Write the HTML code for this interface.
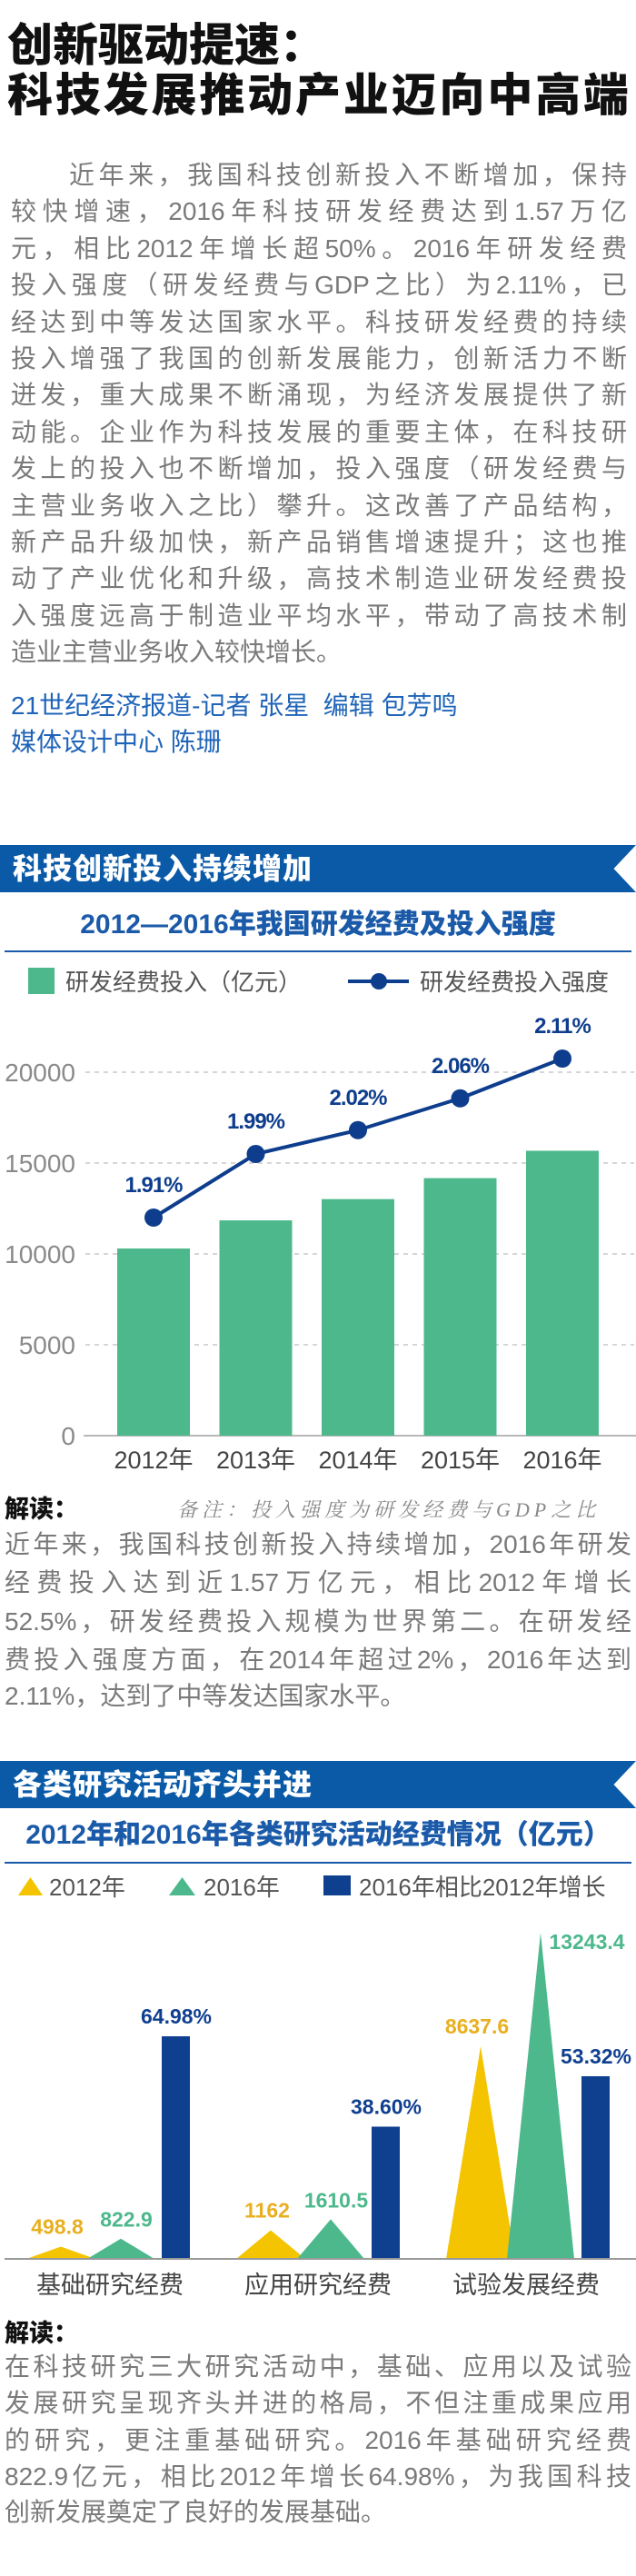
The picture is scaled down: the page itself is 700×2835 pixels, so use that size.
<!DOCTYPE html>
<html><head><meta charset="utf-8"><style>
*{margin:0;padding:0;box-sizing:border-box}
body{width:700px;height:2835px;background:#fff;position:relative;overflow:hidden;font-family:"Liberation Sans","Noto Sans CJK SC",sans-serif}
.t{position:absolute;white-space:nowrap}
.ln{position:absolute;height:40px;line-height:40px;font-size:28px;color:#7a7a7a;text-align:justify;text-align-last:justify;overflow:hidden;white-space:nowrap}
.ln.l{text-align-last:left}
.title{position:absolute;left:8px;font-size:50px;font-weight:900;color:#111;line-height:56px;height:56px;white-space:nowrap}
.bar{position:absolute;left:0;width:700px;height:52px;background:#0a5aa8;clip-path:polygon(0 0,100% 0,96.5% 50%,100% 100%,0 100%)}
.bar span{position:absolute;left:14px;top:5px;font-size:32px;font-weight:900;color:#fff;line-height:42px;letter-spacing:1px}
.ct{position:absolute;left:0;width:700px;text-align:center;font-size:30px;font-weight:900;color:#1a5aa8;line-height:40px}
.rule{position:absolute;left:5px;width:690px;height:2px;background:#1a5aa8}
.by{position:absolute;left:12px;font-size:28px;color:#1f64b8;line-height:40px;white-space:nowrap}
.jd{position:absolute;left:5px;font-size:27px;font-weight:900;color:#111;line-height:36px}
svg{position:absolute;left:0;top:0}
</style></head><body>
<div class="title" style="top:22px">创新驱动提速：</div>
<div class="title" style="top:77px;width:684px;text-align:justify;text-align-last:justify">科技发展推动产业迈向中高端</div>

<div>
<div class="ln" style="top:173px;left:76px;width:614px">近年来，我国科技创新投入不断增加，保持</div>
<div class="ln" style="top:213px;left:12px;width:678px">较快增速，2016年科技研发经费达到1.57万亿</div>
<div class="ln" style="top:254px;left:12px;width:678px">元，相比2012年增长超50%。2016年研发经费</div>
<div class="ln" style="top:294px;left:12px;width:678px">投入强度（研发经费与GDP之比）为2.11%，已</div>
<div class="ln" style="top:335px;left:12px;width:678px">经达到中等发达国家水平。科技研发经费的持续</div>
<div class="ln" style="top:375px;left:12px;width:678px">投入增强了我国的创新发展能力，创新活力不断</div>
<div class="ln" style="top:415px;left:12px;width:678px">迸发，重大成果不断涌现，为经济发展提供了新</div>
<div class="ln" style="top:456px;left:12px;width:678px">动能。企业作为科技发展的重要主体，在科技研</div>
<div class="ln" style="top:496px;left:12px;width:678px">发上的投入也不断增加，投入强度（研发经费与</div>
<div class="ln" style="top:537px;left:12px;width:678px">主营业务收入之比）攀升。这改善了产品结构，</div>
<div class="ln" style="top:577px;left:12px;width:678px">新产品升级加快，新产品销售增速提升；这也推</div>
<div class="ln" style="top:617px;left:12px;width:678px">动了产业优化和升级，高技术制造业研发经费投</div>
<div class="ln" style="top:658px;left:12px;width:678px">入强度远高于制造业平均水平，带动了高技术制</div>
<div class="ln l" style="top:698px;left:12px;width:678px">造业主营业务收入较快增长。</div>
</div>
<div class="by" style="top:757px">21世纪经济报道-记者 张星&nbsp;&nbsp;编辑 包芳鸣</div>
<div class="by" style="top:797px">媒体设计中心 陈珊</div>

<div class="bar" style="top:930px"><span>科技创新投入持续增加</span></div>
<div class="ct" style="top:998px">2012—2016年我国研发经费及投入强度</div>
<div class="rule" style="top:1046px"></div>

<div class="jd" style="top:1643px">解读：</div>
<div class="t" style="left:195px;top:1645px;font-size:22px;color:#888;font-style:italic;letter-spacing:5px;font-family:'Liberation Serif','Noto Serif CJK SC',serif">备注：投入强度为研发经费与GDP之比</div>
<div>
<div class="ln" style="top:1680px;left:5px;width:690px">近年来，我国科技创新投入持续增加，2016年研发</div>
<div class="ln" style="top:1722px;left:5px;width:690px">经费投入达到近1.57万亿元，相比2012年增长</div>
<div class="ln" style="top:1765px;left:5px;width:690px">52.5%，研发经费投入规模为世界第二。在研发经</div>
<div class="ln" style="top:1807px;left:5px;width:690px">费投入强度方面，在2014年超过2%，2016年达到</div>
<div class="ln l" style="top:1847px;left:5px;width:690px">2.11%，达到了中等发达国家水平。</div>
</div>

<div class="bar" style="top:1938px"><span>各类研究活动齐头并进</span></div>
<div class="ct" style="top:2000px">2012年和2016年各类研究活动经费情况（亿元）</div>
<div class="rule" style="top:2049px"></div>

<div class="jd" style="top:2550px">解读：</div>
<div>
<div class="ln" style="top:2585px;left:5px;width:690px">在科技研究三大研究活动中，基础、应用以及试验</div>
<div class="ln" style="top:2625px;left:5px;width:690px">发展研究呈现齐头并进的格局，不但注重成果应用</div>
<div class="ln" style="top:2666px;left:5px;width:690px">的研究，更注重基础研究。2016年基础研究经费</div>
<div class="ln" style="top:2706px;left:5px;width:690px">822.9亿元，相比2012年增长64.98%，为我国科技</div>
<div class="ln l" style="top:2745px;left:5px;width:690px">创新发展奠定了良好的发展基础。</div>
</div>

<svg id="charts" width="700" height="2835"></svg>

<script>
// Chart 1 data
const years = ["2012年","2013年","2014年","2015年","2016年"];
const spend = [10298, 11847, 13016, 14170, 15677];
const intensity = [1.91, 1.99, 2.02, 2.06, 2.11];
const intensityLabels = ["1.91%","1.99%","2.02%","2.06%","2.11%"];
const yTicks = [0, 5000, 10000, 15000, 20000];
// Chart 2 data
const categories = ["基础研究经费","应用研究经费","试验发展经费"];
const val2012 = [498.8, 1162, 8637.6];
const val2016 = [822.9, 1610.5, 13243.4];
const growth = [64.98, 38.60, 53.32];
const label2012 = ["498.8","1162","8637.6"];
const label2016 = ["822.9","1610.5","13243.4"];
const growthLabels = ["64.98%","38.60%","53.32%"];

const NS = "http://www.w3.org/2000/svg";
const svg = document.getElementById("charts");
function mk(tag, attrs, parent){const e=document.createElementNS(NS,tag);for(const k in attrs)e.setAttribute(k,attrs[k]);(parent||svg).appendChild(e);return e;}
function txt(s, attrs){const e=mk("text",attrs);e.textContent=s;return e;}

// ---- Chart 1 ----
const y1 = v => 1580 - v * 0.02;
const yP = p => 1340 - (p - 1.91) * 875;
const x1 = i => 169 + i * 112.5;

// legend
let e;
e = mk("rect",{x:31,y:1065,width:29,height:29,fill:"#4cb88c"});


e = txt("研发经费投入（亿元）",{x:72,y:1090,"font-size":26,fill:"#555"});


e = mk("line",{x1:383,y1:1080,x2:450,y2:1080,stroke:"#0d3d8c","stroke-width":4});


e = mk("circle",{cx:417,cy:1080,r:9,fill:"#0d3d8c"});


e = txt("研发经费投入强度",{x:462,y:1090,"font-size":26,fill:"#555"});



yTicks.forEach(t=>{
  const y=y1(t);
  if(t>0){
    const g=mk("line",{x1:94,y1:y,x2:698,y2:y,stroke:"#c8c8c8","stroke-width":1.5,"stroke-dasharray":"5 5"});
    
    
  }
  const l=txt(String(t),{x:83,y:y+10,"text-anchor":"end","font-size":28,fill:"#8a8a8a"});
  
  
});
e = mk("line",{x1:92,y1:1580,x2:700,y2:1580,stroke:"#b8b8b8","stroke-width":2});



spend.forEach((v,i)=>{
  const r=mk("rect",{x:x1(i)-40,y:y1(v),width:80,height:1580-y1(v),fill:"#4cb88c"});
  
  
  const l=txt(years[i],{x:x1(i),y:1616,"text-anchor":"middle","font-size":27,fill:"#444"});
  
  
});
const pts = intensity.map((p,i)=>x1(i)+","+yP(p)).join(" ");
e = mk("polyline",{points:pts,fill:"none",stroke:"#0d3d8c","stroke-width":4});


intensity.forEach((p,i)=>{
  const c=mk("circle",{cx:x1(i),cy:yP(p),r:10,fill:"#0d3d8c"});
  
  
  const l=txt(intensityLabels[i],{x:x1(i),y:yP(p)-28,"text-anchor":"middle","font-size":24,"font-weight":"bold",fill:"#0d3d8c","letter-spacing":-1});
  
  
});

// ---- Chart 2 ----
// legend
e = mk("polygon",{points:"20,2086 47,2086 33.5,2066",fill:"#f5c400"});


e = txt("2012年",{x:54,y:2086,"font-size":26,fill:"#555"});


e = mk("polygon",{points:"186,2086 215,2086 200.5,2066",fill:"#4cb88c"});


e = txt("2016年",{x:224,y:2086,"font-size":26,fill:"#555"});


e = mk("rect",{x:356,y:2064,width:30,height:22,fill:"#0f3f8f"});


e = txt("2016年相比2012年增长",{x:395,y:2086,"font-size":26,fill:"#555"});



const base = 2486;
const yV = v => base - v * 0.0271;
const yG = g => base - g * 3.77;
const gx = i => 67 + i * 231; // 2012 triangle apex x per group
categories.forEach((c,i)=>{
  const ax=gx(i);
  const t1=mk("polygon",{points:(ax-38)+","+base+" "+(ax+38)+","+base+" "+ax+","+yV(val2012[i]),fill:"#f5c400"});
  
  
  const bx=ax+66;
  const t2=mk("polygon",{points:(bx-37)+","+base+" "+(bx+37)+","+base+" "+bx+","+yV(val2016[i]),fill:"#4cb88c"});
  
  
  const rx=ax+111;
  const r=mk("rect",{x:rx,y:yG(growth[i]),width:31,height:base-yG(growth[i]),fill:"#0f3f8f"});
  
  
  const l1=txt(label2012[i],{x:ax-4,y:yV(val2012[i])-14,"text-anchor":"middle","font-size":23,"font-weight":"bold",fill:"#e8b020"});
  
  
  const l2x = i===2 ? bx+51 : bx+6;
  const l2=txt(label2016[i],{x:l2x,y:i===2?yV(val2016[i])+18:yV(val2016[i])-13,"text-anchor":"middle","font-size":23,"font-weight":"bold",fill:"#4cb88c"});
  
  
  const l3=txt(growthLabels[i],{x:rx+16,y:yG(growth[i])-14,"text-anchor":"middle","font-size":23,"font-weight":"bold",fill:"#0f3f8f"});
  
  
  const cl=txt(c,{x:121+i*229,y:2524,"text-anchor":"middle","font-size":27,fill:"#444"});
  
  
});
e = mk("line",{x1:5,y1:base,x2:700,y2:base,stroke:"#999","stroke-width":2});


</script>
</body></html>
